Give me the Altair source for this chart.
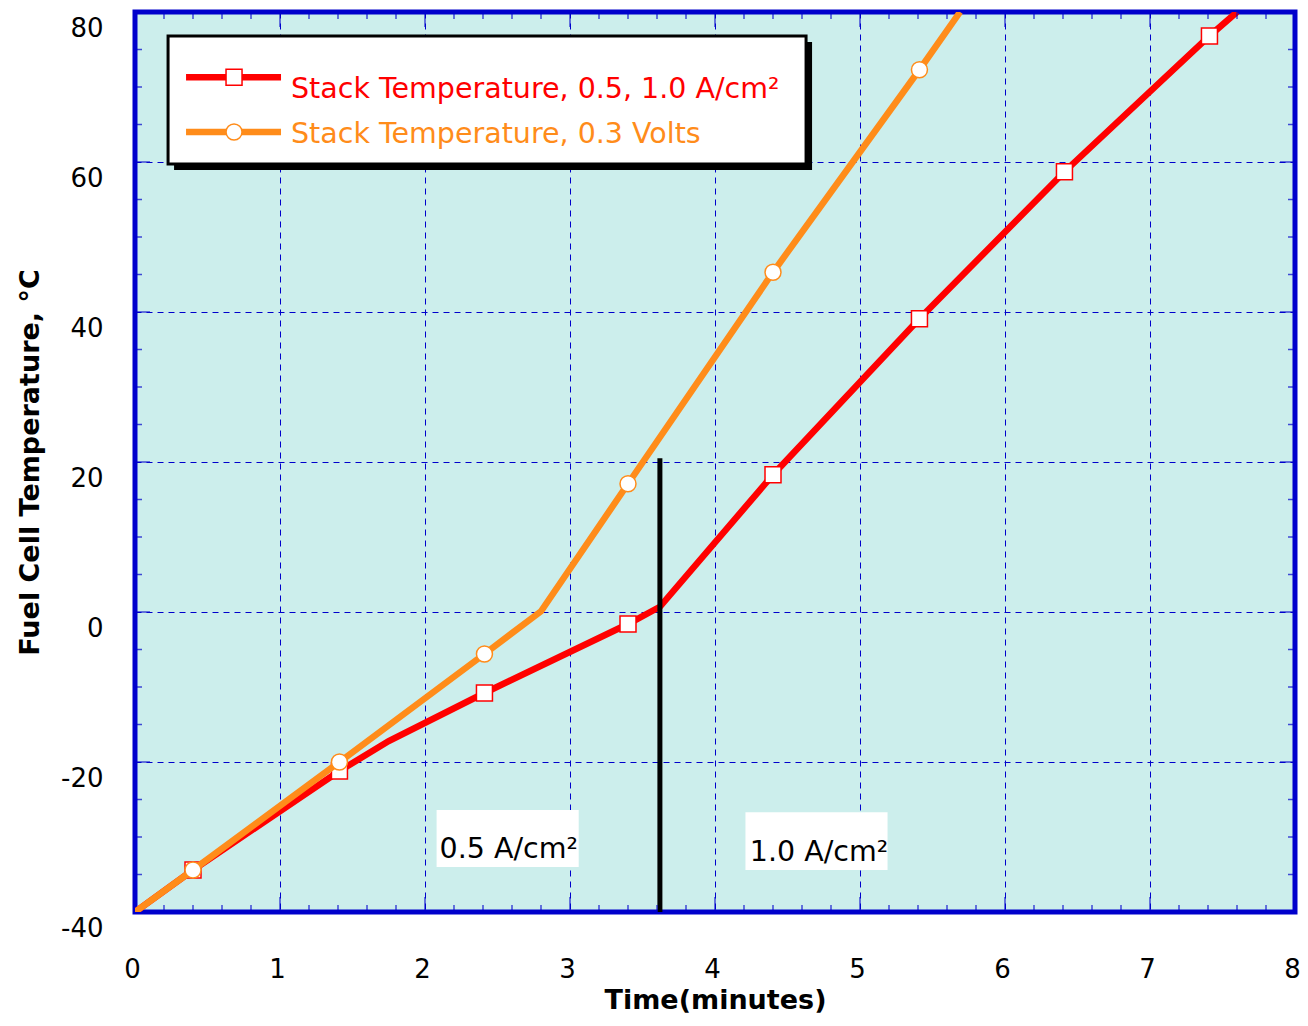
import altair as alt
import pandas as pd

# ---- data ----
red_line_x = [0.00, 0.40, 1.41, 1.75, 2.41, 3.40, 3.62, 4.40, 5.41, 6.41, 7.41, 7.60]
red_line_y = [-40.0, -34.4, -21.2, -17.2, -10.8, -1.6, 0.7, 18.3, 39.1, 58.7, 76.8, 80.0]
red_mark_x = [0.40, 1.41, 2.41, 3.40, 4.40, 5.41, 6.41, 7.41]
red_mark_y = [-34.4, -21.2, -10.8, -1.6, 18.3, 39.1, 58.7, 76.8]

orange_line_x = [0.00, 0.40, 1.41, 2.41, 2.80, 3.40, 4.40, 5.41, 5.69]
orange_line_y = [-40.0, -34.4, -20.0, -5.6, 0.1, 17.1, 45.3, 72.3, 80.0]
orange_mark_x = [0.40, 1.41, 2.41, 3.40, 4.40, 5.41]
orange_mark_y = [-34.4, -20.0, -5.6, 17.1, 45.3, 72.3]

switch_x = [3.62]
switch_y = [-40.0]
switch_y2 = [20.5]

annot_text = ["0.5 A/cm\u00b2", "1.0 A/cm\u00b2"]
annot_x = [2.10, 4.24]
annot_y = [-31.6, -32.0]
annot_box_x1 = [2.08, 4.21]
annot_box_x2 = [3.06, 5.19]
annot_box_y1 = [-26.4, -26.7]
annot_box_y2 = [-34.0, -34.4]

legend_labels = ["Stack Temperature, 0.5, 1.0 A/cm\u00b2", "Stack Temperature, 0.3 Volts"]
legend_colors = ["#ff0000", "#ff8c1a"]
legend_shapes = ["square", "circle"]

x_ticks = [0, 1, 2, 3, 4, 5, 6, 7, 8]
y_ticks = [-40, -20, 0, 20, 40, 60, 80]

RED = "#ff0000"
ORANGE = "#ff8c1a"
BLUE = "#0000cc"
FONT = "DejaVu Sans"

xs = alt.Scale(domain=[0, 8], nice=False, zero=False)
ys = alt.Scale(domain=[-40, 80], nice=False, zero=False)

x_axis = alt.Axis(
    values=x_ticks, title="Time(minutes)", grid=True, gridColor=BLUE,
    gridDash=[6, 5], gridWidth=1, ticks=False, domain=False,
    labelExpr="datum.value + ''",
    labelFont=FONT, labelFontSize=26, labelColor="black", labelPadding=44,
    labelOffset=-3, labelFlush=False, labelOverlap=False,
    titleFont=FONT, titleFontSize=27, titleFontWeight="bold",
    titleColor="black", titlePadding=5,
)
y_axis = alt.Axis(
    values=y_ticks, title="Fuel Cell Temperature, \u00b0C", grid=True,
    gridColor=BLUE, gridDash=[6, 5], gridWidth=1, ticks=False, domain=False,
    labelExpr="datum.value + ''",
    labelFont=FONT, labelFontSize=26, labelColor="black", labelPadding=32,
    labelOffset=16, labelFlush=False, labelOverlap=False,
    titleFont=FONT, titleFontSize=27, titleFontWeight="bold",
    titleColor="black", titlePadding=16,
)


def X(field, **kw):
    return alt.X(field, type="quantitative", scale=xs, axis=x_axis, **kw)


def Y(field, **kw):
    return alt.Y(field, type="quantitative", scale=ys, axis=y_axis, **kw)


# ---- tables ----
red_line = pd.DataFrame({"x": red_line_x, "y": red_line_y, "o": range(len(red_line_x))})
red_mark = pd.DataFrame({"x": red_mark_x, "y": red_mark_y})
orange_line = pd.DataFrame({"x": orange_line_x, "y": orange_line_y, "o": range(len(orange_line_x))})
orange_mark = pd.DataFrame({"x": orange_mark_x, "y": orange_mark_y})
switch = pd.DataFrame({"x": switch_x, "y": switch_y, "y2": switch_y2})
annot = pd.DataFrame({"t": annot_text, "x": annot_x, "y": annot_y,
                      "x1": annot_box_x1, "x2": annot_box_x2,
                      "y1": annot_box_y1, "y2": annot_box_y2})

# inward ticks on all four sides
tick_rows = []
for i in range(1, 40):
    v = round(i * 0.2, 1)
    ln = 30 if i % 5 == 0 else 14
    tick_rows.append({"x": v, "y": -40, "len": ln})
    tick_rows.append({"x": v, "y": 80, "len": ln})
xt = pd.DataFrame(tick_rows)
tick_rows = []
for v in range(-35, 80, 5):
    ln = 30 if v % 20 == 0 else 14
    tick_rows.append({"x": 0, "y": v, "len": ln})
    tick_rows.append({"x": 8, "y": v, "len": ln})
yt = pd.DataFrame(tick_rows)

# legend box placement (in data units of the plot)
leg_box = pd.DataFrame({"x1": [0.228], "x2": [4.628], "y1": [76.8], "y2": [59.73]})
leg = pd.DataFrame({
    "label": legend_labels, "color": legend_colors, "shape": legend_shapes,
    "lx1": [0.352, 0.352], "lx2": [1.007, 1.007], "mx": [0.683, 0.683],
    "ly": [71.3, 64.0], "tx": [1.076, 1.076], "ty": [69.8, 63.8],
})

base_grid = alt.Chart(red_mark).mark_point(opacity=0).encode(x=X("x"), y=Y("y"))

boxes = alt.Chart(annot).mark_rect(fill="white").encode(
    x=X("x1"), x2="x2", y=Y("y1"), y2="y2")
box_text = alt.Chart(annot).mark_text(
    align="left", baseline="middle", font=FONT, fontSize=28.5, color="black"
).encode(x=X("x"), y=Y("y"), text="t:N")

l_red = alt.Chart(red_line).mark_line(color=RED, strokeWidth=6.5, clip=True).encode(
    x=X("x"), y=Y("y"), order="o:Q")
m_red = alt.Chart(red_mark).mark_point(
    shape="square", size=256, filled=True, fill="white", stroke=RED,
    strokeWidth=1.5, opacity=1, clip=True).encode(x=X("x"), y=Y("y"))
l_or = alt.Chart(orange_line).mark_line(color=ORANGE, strokeWidth=6.5, clip=True).encode(
    x=X("x"), y=Y("y"), order="o:Q")
m_or = alt.Chart(orange_mark).mark_point(
    shape="circle", size=256, filled=True, fill="white", stroke=ORANGE,
    strokeWidth=1.5, opacity=1, clip=True).encode(x=X("x"), y=Y("y"))

sw = alt.Chart(switch).mark_rule(color="black", strokeWidth=5).encode(
    x=X("x"), y=Y("y"), y2="y2")

xtick = alt.Chart(xt).mark_tick(orient="vertical", clip=True, thickness=1.5, color=BLUE).encode(
    x=X("x"), y=Y("y"), size=alt.Size("len:Q", scale=None, legend=None))
ytick = alt.Chart(yt).mark_tick(orient="horizontal", clip=True, thickness=1.5, color=BLUE).encode(
    x=X("x"), y=Y("y"), size=alt.Size("len:Q", scale=None, legend=None))

shadow = alt.Chart(leg_box).mark_rect(
    fill="black", xOffset=6, x2Offset=6, yOffset=6, y2Offset=6).encode(
    x=X("x1"), x2="x2", y=Y("y1"), y2="y2")
frame = alt.Chart(leg_box).mark_rect(fill="white", stroke="black", strokeWidth=3).encode(
    x=X("x1"), x2="x2", y=Y("y1"), y2="y2")
leg_lines = alt.Chart(leg).mark_rule(strokeWidth=6.5).encode(
    x=X("lx1"), x2="lx2", y=Y("ly"),
    color=alt.Color("color:N", scale=None, legend=None))
leg_marks = alt.Chart(leg).mark_point(
    size=256, filled=True, fill="white", strokeWidth=1.5, opacity=1).encode(
    x=X("mx"), y=Y("ly"),
    shape=alt.Shape("shape:N", scale=None, legend=None),
    stroke=alt.Stroke("color:N", scale=None, legend=None))
leg_text = alt.Chart(leg).mark_text(
    align="left", baseline="middle", font=FONT, fontSize=28.5).encode(
    x=X("tx"), y=Y("ty"), text="label:N",
    color=alt.Color("color:N", scale=None, legend=None))

chart = alt.layer(
    base_grid, boxes, box_text, l_red, m_red, l_or, m_or, sw, xtick, ytick,
    shadow, frame, leg_lines, leg_marks, leg_text,
).properties(
    width=1160, height=900, background="white",
    autosize=alt.AutoSizeParams(type="none"),
    padding={"left": 127, "top": 4, "right": 5, "bottom": 105},
).configure_view(
    fill="#cceeec", stroke=BLUE, strokeWidth=5,
)

chart.save("out.html", embed_options={"renderer": "svg", "actions": False})
